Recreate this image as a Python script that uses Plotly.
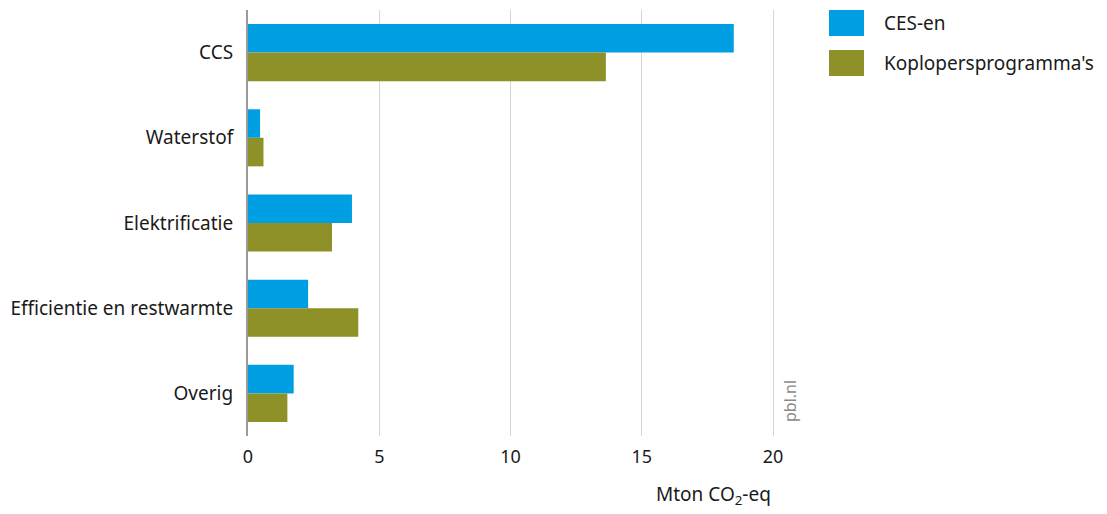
import plotly.graph_objects as go

categories = ["CCS", "Waterstof", "Elektrificatie", "Efficientie en restwarmte", "Overig"]
ces_en = [18.5, 0.46, 3.96, 2.29, 1.74]
koplopers = [13.63, 0.59, 3.2, 4.2, 1.5]
series_names = ["CES-en", "Koplopersprogramma's"]
colors = ["#009fe3", "#8d9128"]
x_ticks = [0, 5, 10, 15, 20]

# page body has an 8px margin, so the figure is drawn 8px smaller on each side
W, H = 1091, 498
L, R, T, B = 240, 318, 2, 70
PW, PH = W - L - R, H - T - B

def px(x):
    return (x - L) / PW

def py(y):
    return (H - B - y) / PH

FONT = "Noto Sans"
FS = 19

fig = go.Figure()
for name, vals, col in zip(series_names, [ces_en, koplopers], colors):
    fig.add_trace(go.Bar(
        y=categories, x=vals, name=name, orientation="h",
        marker=dict(color=col, line=dict(width=0)),
        showlegend=False,
    ))

fig.update_layout(
    width=W, height=H,
    margin=dict(l=L, r=R, t=T, b=B),
    barmode="group", bargap=0.33, bargroupgap=0,
    plot_bgcolor="white", paper_bgcolor="white",
    font=dict(family=FONT, size=FS, color="#1a1a1a"),
    xaxis=dict(
        range=[0, 20.3], tickvals=x_ticks, showgrid=True,
        gridcolor="#d6d6d6", gridwidth=1.2, zeroline=False,
        showline=False, ticks="", ticklabelstandoff=8,
        tickfont=dict(size=FS - 1, family=FONT),
    ),
    yaxis=dict(
        autorange="reversed", showgrid=False, zeroline=False,
        showline=True, linecolor="#9a9a9a", linewidth=2,
        ticks="", ticklabelstandoff=9,
        tickfont=dict(size=FS, family=FONT),
    ),
)

# custom legend
legend_y = [15, 55]
for name, col, yc in zip(series_names, colors, legend_y):
    fig.add_shape(type="rect", xref="paper", yref="paper",
                  x0=px(821), x1=px(856), y0=py(yc + 13), y1=py(yc - 13),
                  fillcolor=col, line=dict(width=0))
    fig.add_annotation(xref="paper", yref="paper", x=px(874), y=py(yc),
                       text=name, showarrow=False, xanchor="left", yanchor="middle",
                       font=dict(size=FS, family=FONT, color="#1a1a1a"))

# axis title
fig.add_annotation(xref="x", yref="paper", x=20, y=py(487),
                   text="Mton CO<sub>2</sub>-eq", showarrow=False,
                   xanchor="right", yanchor="middle",
                   font=dict(size=FS, family=FONT, color="#1a1a1a"))

# source tag
fig.add_annotation(xref="paper", yref="paper", x=px(782), y=py(416),
                   text="pbl.nl", showarrow=False, textangle=-90,
                   xanchor="center", yanchor="bottom",
                   font=dict(size=16, family=FONT, color="#8a8a8a"))

fig.write_html("out.html")
